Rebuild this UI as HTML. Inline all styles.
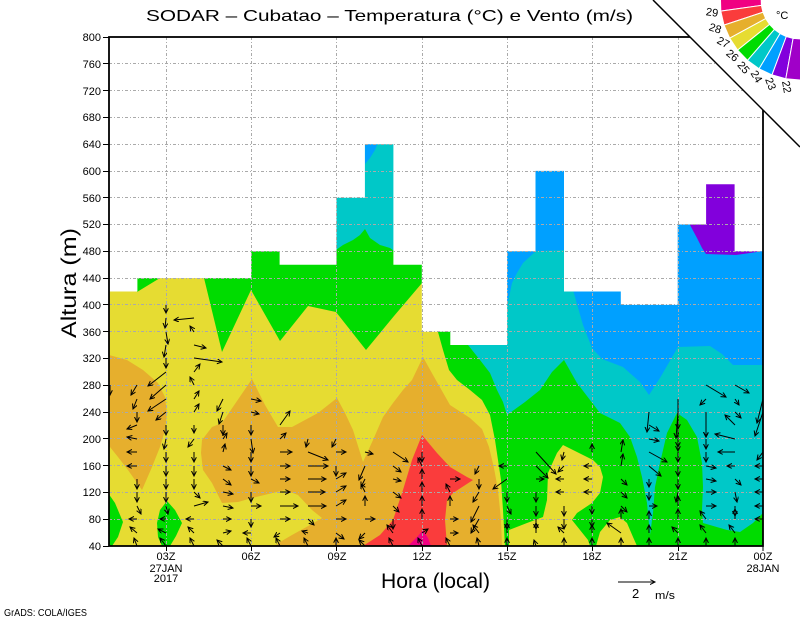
<!DOCTYPE html>
<html><head><meta charset="utf-8"><style>
html,body{margin:0;padding:0;background:#fff;overflow:hidden;}
svg{display:block;}
text{font-family:"Liberation Sans",sans-serif;fill:#000;}
</style></head><body>
<svg width="800" height="618" viewBox="0 0 800 618" xmlns="http://www.w3.org/2000/svg">
<defs>
<marker id="ah" markerWidth="7" markerHeight="7" refX="5" refY="2.5" orient="auto" markerUnits="userSpaceOnUse"><path d="M0,0 L5,2.5 L0,5" fill="none" stroke="#000" stroke-width="1"/></marker>
<clipPath id="pc"><rect x="109" y="37" width="654" height="509"/></clipPath>
</defs>
<rect width="800" height="618" fill="#fff"/>
<g clip-path="url(#pc)">
<rect x="109" y="37" width="654" height="509" fill="#e6dc32"/>
<polygon fill="#00dc00" points="438,300 763,300 763,546 505,546 503,510 501,480 498,460 495,440 490,415 482,400 470,390 457,380 449,370 443,350 438,332"/>
<polygon fill="#00c8c8" points="468,37 763,37 763,513 753,523 740,532 727,530 703,523 702,510 703,487 702,463 697,437 687,420 677,413 667,433 660,463 655,487 653,513 650,535 647,503 642,477 637,457 630,437 620,423 600,413 577,383 564,360 552,372 540,390 525,402 507,415 503,402 497,390 490,373 480,360 468,345"/>
<polygon fill="#00a0ff" points="507,37 507,307 512,283 517,273 523,263 536,251 565,250 573,290 583,325 592,348 602,359 623,367 640,382 649,395 660,378 678,347 710,346 722,354 733,365 763,365 763,37"/>
<polygon fill="#8200dc" points="690,37 763,37 763,251 750,253 736,255 706,254 702,248 697,238 690,225"/>
<polygon fill="#e6dc32" points="509,546 509,530 527,523 543,517 547,500 548,473 557,453 563,445 573,450 593,460 600,467 603,477 600,493 592,503 577,513 572,520 580,530 588,540 590,546"/>
<polygon fill="#e6dc32" points="596,546 600,532 610,520 620,517 627,523 633,537 637,546"/>
<polygon fill="#00dc00" points="137,278 160,278 137,292"/>
<polygon fill="#00dc00" points="204,140 422,140 422,283 394,316 366,350 336,312 308,306 280,341 251,290 222,352 204,278"/>
<polygon fill="#00c8c8" points="336,140 394,140 394,251 390,248 380,245 370,238 365,229 360,235 353,240 343,245 336,250"/>
<polygon fill="#00a0ff" points="365,140 379,140 375,150 370,158 365,164"/>
<polygon fill="#e6af2d" points="109,355 127,360 143,370 158,383 165,397 167,413 165,430 160,447 152,467 142,490 128,470 118,457 110,447 109,440"/>
<polygon fill="#e6af2d" points="202,440 212,427 222,423 252,379 265,405 278,427 292,427 318,413 337,398 345,413 353,430 363,462 373,440 383,417 393,403 403,390 412,380 423,357 433,375 450,405 470,418 482,429 489,447 494,468 498,490 501,520 502,546 275,546 280,542 292,535 310,525 322,518 312,510 298,495 285,490 252,498 238,502 222,503 212,483 203,470 201,453"/>
<polygon fill="#fa3c3c" points="363,546 380,535 393,520 403,490 412,460 422,435 437,453 450,467 467,477 473,480 453,493 447,500 445,520 447,546"/>
<polygon fill="#f00082" points="408,546 418,536 423,530 428,538 431,546"/>
<polygon fill="#00dc00" points="108,493 115,503 123,522 118,537 112,546 108,546"/>
<polygon fill="#00dc00" points="167,501 175,510 182,523 176,536 170,546 162,546 158,537 157,523 160,510"/>
<polygon fill="#fff" points="109,37 109,291.5 137.4,291.5 137.4,278.1 251.2,278.1 251.2,251.3 279.6,251.3 279.6,264.7 336.5,264.7 336.5,197.7 364.9,197.7 364.9,144.2 393.4,144.2 393.4,264.7 421.8,264.7 421.8,331.7 450.3,331.7 450.3,345 507.1,345 507.1,251.3 535.5,251.3 535.5,170.9 564,170.9 564,291.5 620.8,291.5 620.8,304.9 677.7,304.9 677.7,224.5 706.1,224.5 706.1,184.3 734.6,184.3 734.6,251.3 763,251.3 763,37"/>
<g stroke="#aaaaaa" stroke-width="1" stroke-dasharray="3 2 1 2" fill="none">
<path d="M109 519.5H763M109 492.5H763M109 465.5H763M109 438.5H763M109 412.5H763M109 385.5H763M109 358.5H763M109 331.5H763M109 304.5H763M109 278.5H763M109 251.5H763M109 224.5H763M109 197.5H763M109 171.5H763M109 144.5H763M109 117.5H763M109 90.5H763M109 63.5H763"/>
<path d="M166.5 37V546M251.5 37V546M336.5 37V546M422.5 37V546M507.5 37V546M592.5 37V546M678.5 37V546"/>
</g>
<g stroke="#000" stroke-width="1" fill="none" marker-end="url(#ah)">
<line x1="110" y1="385" x2="110" y2="395"/>
<line x1="137" y1="546" x2="134" y2="538"/><line x1="137" y1="533" x2="130" y2="527"/><line x1="137" y1="519" x2="129" y2="519"/><line x1="137" y1="506" x2="141" y2="514"/><line x1="137" y1="492" x2="137" y2="502"/><line x1="137" y1="479" x2="137" y2="489"/><line x1="137" y1="466" x2="127" y2="466"/><line x1="137" y1="452" x2="127" y2="452"/><line x1="137" y1="439" x2="127" y2="437"/><line x1="137" y1="425" x2="127" y2="429"/><line x1="137" y1="412" x2="137" y2="422"/><line x1="137" y1="399" x2="133" y2="409"/><line x1="137" y1="385" x2="131" y2="395"/>
<line x1="166" y1="546" x2="160" y2="538"/><line x1="166" y1="533" x2="158" y2="529"/><line x1="166" y1="519" x2="160" y2="519"/><line x1="166" y1="506" x2="168" y2="514"/><line x1="166" y1="492" x2="166" y2="502"/><line x1="166" y1="479" x2="166" y2="489"/><line x1="166" y1="466" x2="166" y2="476"/><line x1="166" y1="452" x2="166" y2="462"/><line x1="166" y1="439" x2="164" y2="449"/><line x1="166" y1="425" x2="166" y2="435"/><line x1="166" y1="412" x2="156" y2="420"/><line x1="166" y1="399" x2="148" y2="411"/><line x1="166" y1="385" x2="150" y2="399"/><line x1="166" y1="372" x2="148" y2="386"/><line x1="166" y1="358" x2="166" y2="368"/><line x1="166" y1="345" x2="164" y2="357"/><line x1="166" y1="332" x2="168" y2="344"/><line x1="166" y1="318" x2="165" y2="328"/><line x1="166" y1="305" x2="166" y2="313"/>
<line x1="194" y1="546" x2="190" y2="538"/><line x1="194" y1="533" x2="188" y2="527"/><line x1="194" y1="519" x2="186" y2="519"/><line x1="194" y1="506" x2="208" y2="502"/><line x1="194" y1="492" x2="200" y2="498"/><line x1="194" y1="479" x2="194" y2="489"/><line x1="194" y1="466" x2="194" y2="476"/><line x1="194" y1="452" x2="194" y2="462"/><line x1="194" y1="439" x2="188" y2="447"/><line x1="194" y1="425" x2="194" y2="433"/><line x1="194" y1="412" x2="199" y2="404"/><line x1="194" y1="399" x2="199" y2="391"/><line x1="194" y1="385" x2="190" y2="377"/><line x1="194" y1="372" x2="200" y2="364"/><line x1="194" y1="358" x2="222" y2="362"/><line x1="194" y1="345" x2="206" y2="348"/><line x1="194" y1="332" x2="190" y2="326"/><line x1="194" y1="318" x2="174" y2="320"/>
<line x1="223" y1="546" x2="217" y2="540"/><line x1="223" y1="533" x2="231" y2="531"/><line x1="223" y1="519" x2="231" y2="519"/><line x1="223" y1="506" x2="233" y2="508"/><line x1="223" y1="492" x2="233" y2="494"/><line x1="223" y1="479" x2="231" y2="485"/><line x1="223" y1="466" x2="231" y2="470"/><line x1="223" y1="452" x2="225" y2="444"/><line x1="223" y1="439" x2="227" y2="433"/><line x1="223" y1="425" x2="223" y2="435"/><line x1="223" y1="412" x2="219" y2="424"/><line x1="223" y1="399" x2="217" y2="411"/>
<line x1="251" y1="546" x2="247" y2="538"/><line x1="251" y1="533" x2="243" y2="533"/><line x1="251" y1="519" x2="251" y2="527"/><line x1="251" y1="506" x2="261" y2="506"/><line x1="251" y1="492" x2="251" y2="502"/><line x1="251" y1="479" x2="259" y2="483"/><line x1="251" y1="466" x2="251" y2="476"/><line x1="251" y1="452" x2="251" y2="462"/><line x1="251" y1="439" x2="253" y2="453"/><line x1="251" y1="425" x2="251" y2="435"/><line x1="251" y1="412" x2="259" y2="414"/><line x1="251" y1="399" x2="261" y2="401"/>
<line x1="280" y1="546" x2="276" y2="538"/><line x1="280" y1="533" x2="274" y2="537"/><line x1="280" y1="519" x2="290" y2="519"/><line x1="280" y1="506" x2="298" y2="506"/><line x1="280" y1="492" x2="290" y2="492"/><line x1="280" y1="479" x2="290" y2="479"/><line x1="280" y1="466" x2="290" y2="466"/><line x1="280" y1="452" x2="292" y2="452"/><line x1="280" y1="439" x2="286" y2="433"/><line x1="280" y1="425" x2="290" y2="411"/>
<line x1="308" y1="546" x2="304" y2="538"/><line x1="308" y1="533" x2="302" y2="531"/><line x1="308" y1="519" x2="314" y2="525"/><line x1="308" y1="506" x2="326" y2="506"/><line x1="308" y1="492" x2="325" y2="492"/><line x1="308" y1="479" x2="326" y2="479"/><line x1="308" y1="466" x2="328" y2="466"/><line x1="308" y1="452" x2="328" y2="460"/><line x1="308" y1="439" x2="306" y2="447"/>
<line x1="336" y1="546" x2="336" y2="538"/><line x1="336" y1="533" x2="344" y2="539"/><line x1="336" y1="519" x2="346" y2="519"/><line x1="336" y1="506" x2="346" y2="500"/><line x1="336" y1="492" x2="346" y2="486"/><line x1="336" y1="479" x2="346" y2="473"/><line x1="336" y1="466" x2="336" y2="476"/><line x1="336" y1="452" x2="346" y2="452"/><line x1="336" y1="439" x2="332" y2="447"/>
<line x1="365" y1="546" x2="359" y2="540"/><line x1="365" y1="533" x2="359" y2="539"/><line x1="365" y1="519" x2="375" y2="519"/><line x1="365" y1="506" x2="365" y2="496"/><line x1="365" y1="492" x2="361" y2="484"/><line x1="365" y1="479" x2="361" y2="487"/><line x1="365" y1="466" x2="359" y2="480"/><line x1="365" y1="452" x2="373" y2="454"/>
<line x1="393" y1="546" x2="389" y2="538"/><line x1="393" y1="533" x2="387" y2="525"/><line x1="393" y1="519" x2="393" y2="529"/><line x1="393" y1="506" x2="399" y2="512"/><line x1="393" y1="492" x2="401" y2="498"/><line x1="393" y1="479" x2="401" y2="481"/><line x1="393" y1="466" x2="401" y2="472"/><line x1="393" y1="452" x2="408" y2="462"/>
<line x1="422" y1="546" x2="418" y2="538"/><line x1="422" y1="533" x2="428" y2="529"/><line x1="422" y1="519" x2="422" y2="509"/><line x1="422" y1="506" x2="422" y2="496"/><line x1="422" y1="492" x2="422" y2="482"/><line x1="422" y1="479" x2="422" y2="469"/><line x1="422" y1="466" x2="418" y2="458"/><line x1="422" y1="452" x2="422" y2="462"/>
<line x1="450" y1="546" x2="446" y2="538"/><line x1="450" y1="533" x2="458" y2="533"/><line x1="450" y1="519" x2="458" y2="519"/><line x1="450" y1="506" x2="450" y2="496"/><line x1="450" y1="492" x2="446" y2="484"/><line x1="450" y1="479" x2="460" y2="479"/>
<line x1="479" y1="546" x2="477" y2="538"/><line x1="479" y1="533" x2="473" y2="525"/><line x1="479" y1="519" x2="471" y2="533"/><line x1="479" y1="506" x2="471" y2="522"/><line x1="479" y1="492" x2="473" y2="502"/><line x1="479" y1="479" x2="479" y2="489"/><line x1="479" y1="466" x2="475" y2="474"/>
<line x1="507" y1="546" x2="507" y2="538"/><line x1="507" y1="533" x2="507" y2="523"/><line x1="507" y1="519" x2="507" y2="529"/><line x1="507" y1="506" x2="511" y2="514"/><line x1="507" y1="492" x2="507" y2="502"/><line x1="507" y1="479" x2="493" y2="489"/><line x1="507" y1="466" x2="499" y2="466"/>
<line x1="536" y1="546" x2="534" y2="540"/><line x1="536" y1="533" x2="536" y2="523"/><line x1="536" y1="519" x2="536" y2="529"/><line x1="536" y1="506" x2="536" y2="516"/><line x1="536" y1="492" x2="536" y2="502"/><line x1="536" y1="479" x2="544" y2="479"/><line x1="536" y1="466" x2="548" y2="478"/><line x1="536" y1="452" x2="556" y2="474"/>
<line x1="564" y1="546" x2="564" y2="538"/><line x1="564" y1="533" x2="558" y2="527"/><line x1="564" y1="519" x2="564" y2="529"/><line x1="564" y1="506" x2="564" y2="516"/><line x1="564" y1="492" x2="556" y2="492"/><line x1="564" y1="479" x2="556" y2="479"/><line x1="564" y1="466" x2="558" y2="472"/><line x1="564" y1="452" x2="562" y2="460"/>
<line x1="592" y1="546" x2="592" y2="538"/><line x1="592" y1="533" x2="592" y2="525"/><line x1="592" y1="519" x2="592" y2="527"/><line x1="592" y1="506" x2="592" y2="514"/><line x1="592" y1="492" x2="584" y2="492"/><line x1="592" y1="479" x2="584" y2="479"/><line x1="592" y1="466" x2="584" y2="466"/><line x1="592" y1="452" x2="592" y2="444"/>
<line x1="621" y1="546" x2="621" y2="538"/><line x1="621" y1="533" x2="607" y2="523"/><line x1="621" y1="519" x2="621" y2="509"/><line x1="621" y1="506" x2="627" y2="512"/><line x1="621" y1="492" x2="627" y2="498"/><line x1="621" y1="479" x2="627" y2="485"/><line x1="621" y1="466" x2="623" y2="454"/><line x1="621" y1="452" x2="623" y2="440"/>
<line x1="649" y1="546" x2="649" y2="538"/><line x1="649" y1="533" x2="649" y2="525"/><line x1="649" y1="519" x2="649" y2="511"/><line x1="649" y1="506" x2="657" y2="506"/><line x1="649" y1="492" x2="649" y2="500"/><line x1="649" y1="479" x2="649" y2="487"/><line x1="649" y1="466" x2="661" y2="476"/><line x1="649" y1="452" x2="667" y2="462"/><line x1="649" y1="439" x2="659" y2="441"/><line x1="649" y1="425" x2="659" y2="431"/><line x1="649" y1="412" x2="647" y2="432"/>
<line x1="678" y1="546" x2="678" y2="538"/><line x1="678" y1="533" x2="672" y2="527"/><line x1="678" y1="519" x2="678" y2="509"/><line x1="678" y1="506" x2="678" y2="496"/><line x1="678" y1="492" x2="676" y2="502"/><line x1="678" y1="479" x2="678" y2="489"/><line x1="678" y1="466" x2="678" y2="476"/><line x1="678" y1="452" x2="678" y2="462"/><line x1="678" y1="439" x2="678" y2="451"/><line x1="678" y1="425" x2="678" y2="447"/><line x1="678" y1="412" x2="676" y2="438"/><line x1="678" y1="399" x2="678" y2="429"/>
<line x1="706" y1="546" x2="706" y2="538"/><line x1="706" y1="533" x2="700" y2="525"/><line x1="706" y1="519" x2="700" y2="511"/><line x1="706" y1="506" x2="716" y2="506"/><line x1="706" y1="492" x2="716" y2="492"/><line x1="706" y1="479" x2="716" y2="481"/><line x1="706" y1="466" x2="716" y2="468"/><line x1="706" y1="452" x2="706" y2="462"/><line x1="706" y1="439" x2="706" y2="449"/><line x1="706" y1="425" x2="706" y2="437"/><line x1="706" y1="412" x2="706" y2="437"/><line x1="706" y1="399" x2="700" y2="405"/><line x1="706" y1="385" x2="726" y2="397"/>
<line x1="735" y1="546" x2="735" y2="538"/><line x1="735" y1="533" x2="729" y2="525"/><line x1="735" y1="519" x2="735" y2="509"/><line x1="735" y1="506" x2="735" y2="516"/><line x1="735" y1="492" x2="737" y2="502"/><line x1="735" y1="479" x2="741" y2="485"/><line x1="735" y1="466" x2="727" y2="466"/><line x1="735" y1="452" x2="718" y2="452"/><line x1="735" y1="439" x2="715" y2="434"/><line x1="735" y1="425" x2="725" y2="415"/><line x1="735" y1="412" x2="741" y2="418"/><line x1="735" y1="399" x2="739" y2="405"/><line x1="735" y1="385" x2="749" y2="393"/>
<line x1="763" y1="519" x2="755" y2="519"/><line x1="763" y1="506" x2="755" y2="506"/><line x1="763" y1="492" x2="755" y2="492"/><line x1="763" y1="479" x2="755" y2="479"/><line x1="763" y1="466" x2="755" y2="466"/><line x1="763" y1="452" x2="757" y2="460"/><line x1="763" y1="412" x2="755" y2="436"/><line x1="763" y1="399" x2="757" y2="423"/>
</g>
</g>
<rect x="109" y="37" width="654" height="509" fill="none" stroke="#000" stroke-width="1.8"/>
<g stroke="#000" stroke-width="1">
<path d="M103 546.5H109M103 519.5H109M103 492.5H109M103 465.5H109M103 438.5H109M103 412.5H109M103 385.5H109M103 358.5H109M103 331.5H109M103 304.5H109M103 278.5H109M103 251.5H109M103 224.5H109M103 197.5H109M103 171.5H109M103 144.5H109M103 117.5H109M103 90.5H109M103 63.5H109M103 37.5H109"/>
<path d="M166.5 546V551M251.5 546V551M336.5 546V551M422.5 546V551M507.5 546V551M592.5 546V551M678.5 546V551M763 546V551"/>
</g>
<g font-size="11" text-anchor="end">
<text x="101" y="41">800</text><text x="101" y="68">760</text><text x="101" y="95">720</text><text x="101" y="121">680</text><text x="101" y="148">640</text><text x="101" y="175">600</text><text x="101" y="202">560</text><text x="101" y="228">520</text><text x="101" y="255">480</text><text x="101" y="282">440</text><text x="101" y="309">400</text><text x="101" y="336">360</text><text x="101" y="362">320</text><text x="101" y="389">280</text><text x="101" y="416">240</text><text x="101" y="443">200</text><text x="101" y="470">160</text><text x="101" y="496">120</text><text x="101" y="523">80</text><text x="101" y="550">40</text>
</g>
<g font-size="11" text-anchor="middle">
<text x="166" y="560">03Z</text><text x="166" y="572">27JAN</text><text x="166" y="582">2017</text>
<text x="251" y="560">06Z</text><text x="337" y="560">09Z</text><text x="422" y="560">12Z</text><text x="507" y="560">15Z</text><text x="592" y="560">18Z</text><text x="678" y="560">21Z</text>
<text x="763" y="560">00Z</text><text x="763" y="572">28JAN</text>
</g>
<text x="146" y="21" font-size="16" textLength="487" lengthAdjust="spacingAndGlyphs">SODAR – Cubatao – Temperatura (°C) e Vento (m/s)</text>
<text x="381" y="588" font-size="21" textLength="109" lengthAdjust="spacingAndGlyphs">Hora (local)</text>
<text transform="translate(76,338) rotate(-90)" font-size="21" textLength="110" lengthAdjust="spacingAndGlyphs">Altura (m)</text>
<text x="4" y="616" font-size="10" textLength="83" lengthAdjust="spacingAndGlyphs">GrADS: COLA/IGES</text>
<line x1="618" y1="582" x2="655" y2="582" stroke="#000" stroke-width="1" marker-end="url(#ah)"/>
<text x="632" y="598" font-size="13">2</text>
<text x="655" y="599" font-size="11" textLength="20" lengthAdjust="spacingAndGlyphs">m/s</text>
<polygon points="653,0 800,0 800,147" fill="#fff"/>
<line x1="653" y1="0" x2="800" y2="147" stroke="#000" stroke-width="1.5"/>
<g stroke="#fff" stroke-width="1">
<polygon fill="#f00082" points="720.3,-7 720.8,11.1 761.4,5.4 761.1,-3.4"/>
<polygon fill="#fa3c3c" points="720.8,11.1 724.0,25.1 763.0,12.2 761.4,5.4"/>
<polygon fill="#e6af2d" points="724.0,25.1 729.7,38.2 765.7,18.6 763.0,12.2"/>
<polygon fill="#e6dc32" points="729.7,38.2 737.6,50.1 769.6,24.4 765.7,18.6"/>
<polygon fill="#00dc00" points="737.6,50.1 747.5,60.4 774.4,29.4 769.6,24.4"/>
<polygon fill="#00c8c8" points="747.5,60.4 759.1,68.8 780.1,33.5 774.4,29.4"/>
<polygon fill="#00a0ff" points="759.1,68.8 772.0,74.9 786.3,36.5 780.1,33.5"/>
<polygon fill="#8200dc" points="772.0,74.9 785.8,78.7 793.1,38.4 786.3,36.5"/>
<polygon fill="#a000c8" points="785.8,78.7 800,80 801,80 801,39 793.1,38.4"/>
</g>
<g font-size="11" text-anchor="middle" dominant-baseline="central">
<text transform="translate(712,13) rotate(8)">29</text>
<text transform="translate(715,29) rotate(18)">28</text>
<text transform="translate(723,43) rotate(28)">27</text>
<text transform="translate(732,56) rotate(39)">26</text>
<text transform="translate(743,68) rotate(49)">25</text>
<text transform="translate(756,77) rotate(59)">24</text>
<text transform="translate(770,84) rotate(69)">23</text>
<text transform="translate(786,87) rotate(80)">22</text>
</g>
<text x="776" y="19" font-size="11">°C</text>
</svg>
</body></html>
